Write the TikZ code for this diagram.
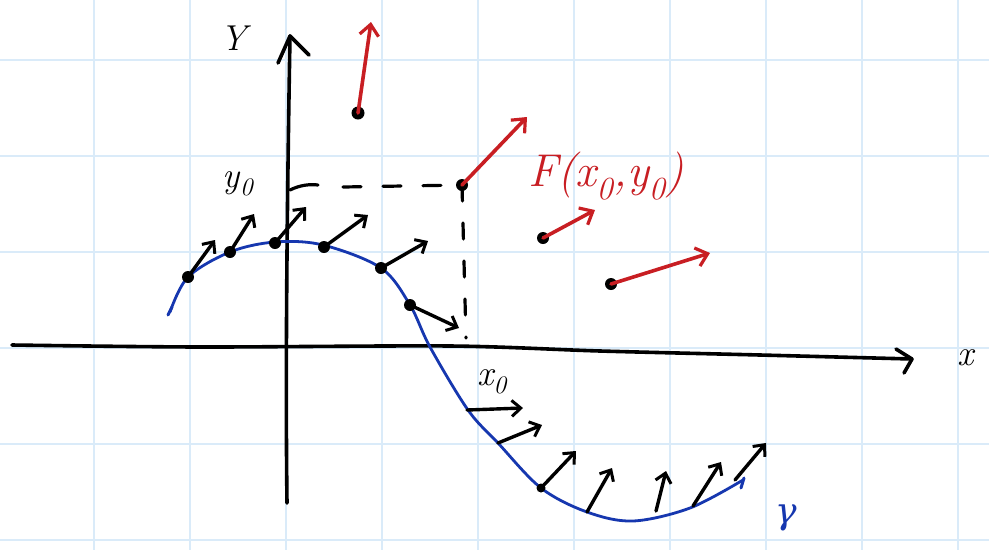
\documentclass[tikz,border=0pt]{standalone}
\usepackage{fontspec}
\newfontfamily\grfont{DejaVu Serif}
\usetikzlibrary{arrows.meta}
\definecolor{gridc}{RGB}{218,235,249}
\definecolor{redc}{RGB}{200,30,35}
\definecolor{bluec}{RGB}{22,55,175}
\begin{document}
\begin{tikzpicture}[x=1pt,y=-1pt, line cap=round, line join=round,
  ink/.style={line width=3.6pt, black},
  vec/.style={line width=3.4pt,-{Straight Barb[length=9pt,width=16pt,line width=3pt]}},
  rvec/.style={line width=3.6pt, redc, -{Straight Barb[length=11pt,width=19pt,line width=3.2pt]}},
  dot/.style={circle, fill=black, inner sep=0pt, minimum size=12pt},
  lbl/.style={font=\fontsize{36}{38}\selectfont\itshape}]
\useasboundingbox (0,0) rectangle (989,550);
\fill[white] (0,0) rectangle (989,550);
% grid
\foreach \gx in {94,190,286,382,478,574,670,766,862,958}
  \draw[gridc, line width=2.6pt, line cap=butt] (\gx,0) -- (\gx,550);
\foreach \gy in {60,156,252,348,444,540}
  \draw[gridc, line width=2.6pt, line cap=butt] (0,\gy) -- (989,\gy);
% axes
\coordinate (xs) at (12,345);
\coordinate (xe) at (912,359);
\draw[ink] plot[smooth, tension=0.5] coordinates {(xs) (200,347) (450,346) (600,351) (760,355) (xe)};
\draw[ink] (896,349) -- (xe) -- (904,373);
\node[lbl] (xl) at (966,358) {x};
\coordinate (ys) at (287,503);
\coordinate (ye) at (290,36);
\draw[ink] (ys) .. controls (285,350) and (288,150) .. (ye);
\draw[ink] (278,63) -- (ye) -- (309,55);
\node[lbl] (yl) at (234,38) {Y};
\node[lbl] (y0) at (238,184) {y\textsubscript{0}};
\node[lbl] (x0) at (492,382) {x\textsubscript{0}};
% blue curve
\draw[bluec, line width=2.8pt] plot[smooth, tension=0.55] coordinates {(170,312) (188,277) (230,252) (275,242) (323,245) (381,268) (410,305) (430,347) (468,410) (498,443) (541,488) (587,512) (633,521) (690,508) (743,480)};
\draw[bluec, line width=3pt] (168,315) -- (172,307);
\draw[bluec, line width=3pt] (744,478) -- (741,488);
\node[lbl, bluec] (gam) at (786,518) {\grfont\itshape γ};
% dashed lines
\node[dot] (P) at (462,185) {};
\draw[ink, line width=3.2pt] (290,190) .. controls (300,185) and (310,184) .. (318,185);
\draw[ink, line width=3.2pt, dash pattern=on 18pt off 22pt] (343,187) -- (P.center);
\draw[ink, line width=3.2pt, dash pattern=on 16pt off 22pt] (P.center) -- (466,338);
% red vectors
\coordinate (Pe) at (527,117);
\draw[rvec] (P.center) -- (Pe);
\node[lbl, redc, font=\fontsize{46}{48}\selectfont\itshape] (F) at (606,176) {F(x\textsubscript{0},y\textsubscript{0})};
\node[dot, minimum size=13pt] (Q) at (358,113) {};
\coordinate (Qe) at (371,22);
\draw[rvec] (Q.center) -- (Qe);
\node[dot] (R) at (543,238) {};
\coordinate (Re) at (595,210);
\draw[rvec] (R.center) -- (Re);
\node[dot] (S) at (611,284) {};
\coordinate (Se) at (710,253);
\draw[rvec] (S.center) -- (Se);
% black vectors on curve
\foreach \i/\a/\b/\c/\d in {1/188/277/215/240, 2/230/252/254/214, 3/275/243/306/207, 4/324/247/368/215, 5/381/268/428/241, 6/410/305/459/328}{
  \node[dot] (c\i) at (\a,\b) {};
  \coordinate (e\i) at (\c,\d);
  \draw[vec] (c\i.center) -- (e\i);
}
\foreach \i/\a/\b/\c/\d in {7/467/410/523/408, 8/498/443/542/425, 9/541/488/576/451, 10/587/512/612/468, 11/656/511/666/471, 12/693/506/721/462, 13/735/480/766/443}{
  \coordinate (c\i) at (\a,\b);
  \coordinate (e\i) at (\c,\d);
  \draw[vec] (c\i) -- (e\i);
}
\fill (541,488) circle (4.5pt);
\end{tikzpicture}
\end{document}
